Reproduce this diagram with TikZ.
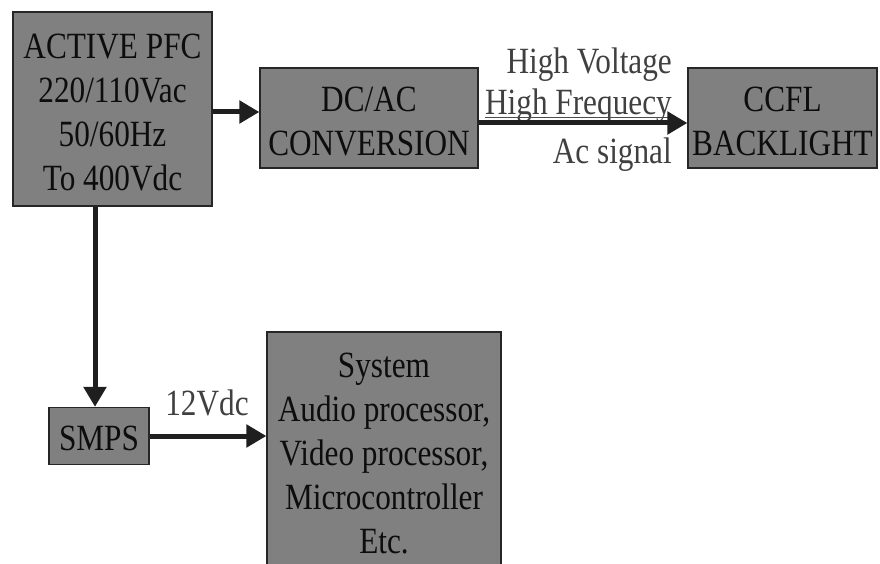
\documentclass[tikz,border=0pt]{standalone}
\usepackage{fontspec}
\setmainfont[FakeStretch=0.845]{Liberation Serif}
\usetikzlibrary{arrows.meta}
\begin{document}
\begin{tikzpicture}[x=1pt,y=-1pt,
  blockbox/.style={draw=black!85,line width=1.2pt,fill=black!50,inner sep=0pt},
  boxtext/.style={align=center,inner sep=0pt,font=\fontsize{37}{44}\selectfont,text=black!95},
  lbl/.style={font=\fontsize{37}{44}\selectfont,text=black!75,inner sep=0pt},
  arr/.style={draw=black!88,line width=5pt,-{Triangle[length=20pt,width=22pt]}}]
\useasboundingbox (0,0) rectangle (880,564);
\node[blockbox,minimum width=199pt,minimum height=194pt] (pfc) at (112.5,109) {};
\node[boxtext] (pfct) at ([yshift=-3.5pt]pfc.center) {ACTIVE PFC\\220/110Vac\\50/60Hz\\To 400Vdc};
\node[blockbox,minimum width=218pt,minimum height=100pt] (dcac) at (369,118) {};
\node[boxtext] (dcact) at ([yshift=-3.5pt]dcac.center) {DC/AC\\CONVERSION};
\node[blockbox,minimum width=189pt,minimum height=100pt] (ccfl) at (782.5,118) {};
\node[boxtext] (ccflt) at ([yshift=-3.5pt]ccfl.center) {CCFL\\BACKLIGHT};
\node[blockbox,minimum width=100pt,minimum height=57pt] (smps) at (99,436) {};
\node[boxtext] (smpst) at ([yshift=-2pt]smps.center) {SMPS};
\node[blockbox,minimum width=234pt,minimum height=240pt] (sys) at (384,452) {};
\node[boxtext] (syst) at ([yshift=-2pt]sys.center) {System\\Audio processor,\\Video processor,\\Microcontroller\\Etc.};
\node[lbl,anchor=east] (hv) at (672,65) {High Voltage};
\node[lbl,anchor=east] (hf) at (672,106) {High Frequecy};
\node[lbl,anchor=east] (ac) at (672,155) {Ac signal};
\node[lbl] (v12) at (207,403) {12Vdc};
\draw[black!70,line width=1pt] ([yshift=-2.5pt]hf.base west) -- ([yshift=-2.5pt]hf.base east);
\coordinate (a1) at ([yshift=-3pt]pfc.east);
\draw[arr] (a1) -- (a1 -| dcac.west);
\coordinate (a2) at ([yshift=-5pt]dcac.east);
\draw[arr] (a2) -- (a2 -| ccfl.west);
\coordinate (a3) at (smps.north |- pfc.south);
\draw[arr] ([xshift=-4pt]a3) -- ([xshift=-4pt]smps.north);
\draw[arr] (smps.east) -- (smps.east -| sys.west);
\end{tikzpicture}
\end{document}
